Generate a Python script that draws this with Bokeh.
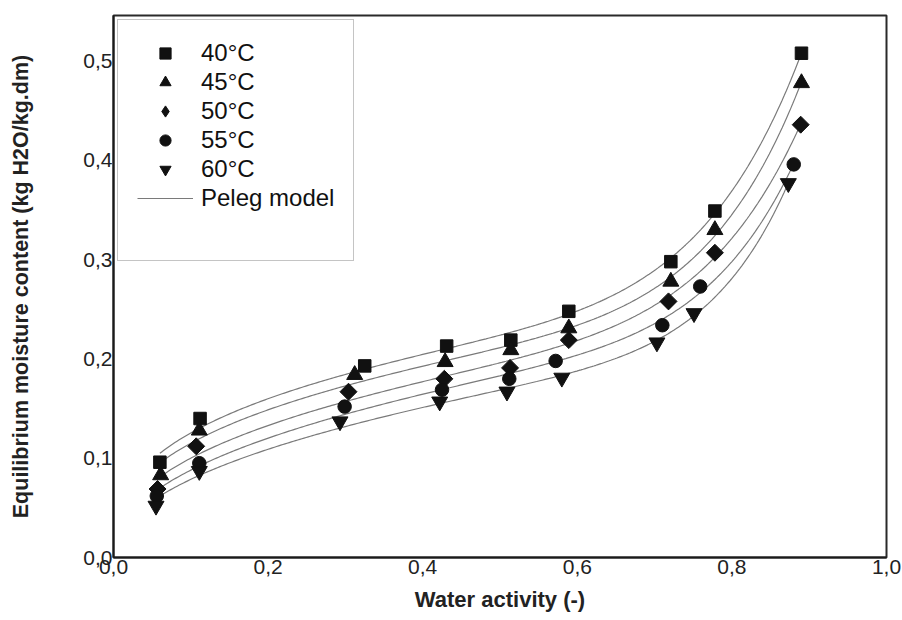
import numpy as np
from bokeh.plotting import figure
from bokeh.models import Legend, LegendItem, FixedTicker, Range1d, ColumnDataSource
from bokeh.embed import file_html
from bokeh.resources import INLINE

# ---- data ----
temps = ["40°C", "45°C", "50°C", "55°C", "60°C"]

aw_40 = [0.060, 0.112, 0.325, 0.431, 0.514, 0.589, 0.721, 0.778, 0.890]
m_40 = [0.096, 0.140, 0.193, 0.213, 0.219, 0.248, 0.298, 0.349, 0.508]

aw_45 = [0.061, 0.111, 0.312, 0.429, 0.514, 0.589, 0.721, 0.778, 0.890]
m_45 = [0.083, 0.128, 0.184, 0.197, 0.209, 0.231, 0.278, 0.330, 0.478]

aw_50 = [0.057, 0.107, 0.304, 0.428, 0.513, 0.589, 0.718, 0.778, 0.889]
m_50 = [0.069, 0.112, 0.167, 0.180, 0.191, 0.219, 0.258, 0.307, 0.436]

aw_55 = [0.056, 0.111, 0.299, 0.425, 0.512, 0.572, 0.710, 0.759, 0.880]
m_55 = [0.062, 0.095, 0.152, 0.169, 0.180, 0.198, 0.234, 0.273, 0.396]

aw_60 = [0.055, 0.111, 0.293, 0.422, 0.509, 0.580, 0.703, 0.751, 0.873]
m_60 = [0.052, 0.087, 0.137, 0.157, 0.167, 0.181, 0.2165, 0.246, 0.377]

x_ticks = [0.0, 0.2, 0.4, 0.6, 0.8, 1.0]
x_tick_labels = ["0,0", "0,2", "0,4", "0,6", "0,8", "1,0"]
y_ticks = [0.0, 0.1, 0.2, 0.3, 0.4, 0.5]
y_tick_labels = ["0,0", "0,1", "0,2", "0,3", "0,4", "0,5"]

series_aw = [aw_40, aw_45, aw_50, aw_55, aw_60]
series_m = [m_40, m_45, m_50, m_55, m_60]
markers = ["square", "triangle", "square", "circle", "inverted_triangle"]
legend_markers = ["square", "triangle", "diamond", "circle", "inverted_triangle"]
angles = [0, 0, np.pi / 4, 0, 0]
sizes = [12.5, 16, 12, 13.5, 16]


def peleg_fit(x, y):
    """Least-squares fit of the Peleg model M = k1*aw^n1 + k2*aw^n2."""
    x = np.asarray(x, float)
    y = np.asarray(y, float)
    best_r, best_p = np.inf, None
    for n1 in np.arange(0.05, 1.5, 0.02):
        for n2 in np.arange(1.5, 20.0, 0.2):
            A = np.column_stack([x ** n1, x ** n2])
            coef, *_ = np.linalg.lstsq(A, y, rcond=None)
            if coef.min() <= 0:
                continue
            r = np.sum((A @ coef - y) ** 2)
            if r < best_r:
                best_r, best_p = r, (coef[0], n1, coef[1], n2)
    return best_p


FONT = "Liberation Sans"

p = figure(width=902, height=620, output_backend="svg", toolbar_location=None,
           x_range=Range1d(0, 1), y_range=Range1d(0, 0.546),
           min_border_left=113, min_border_right=16, min_border_top=15,
           min_border_bottom=63)

p.xgrid.visible = False
p.ygrid.visible = False
p.outline_line_color = "#2a2a2a"
p.outline_line_width = 2
p.background_fill_color = "white"
p.border_fill_color = "white"

line_renderers = []
for aw, m in zip(series_aw, series_m):
    k1, n1, k2, n2 = peleg_fit(aw, m)
    xs = np.linspace(min(aw), max(aw), 300)
    ys = k1 * xs ** n1 + k2 * xs ** n2
    lr = p.line(xs, ys, line_color="#7a7a7a", line_width=1.2)
    line_renderers.append(lr)

legend_renderers = []
for aw, m, mk, lmk, ang, sz in zip(series_aw, series_m, markers, legend_markers, angles, sizes):
    src = ColumnDataSource(dict(x=aw, y=m))
    if lmk != mk:
        # narrow diamond hidden beneath the rotated square; used for the legend symbol
        lr = p.scatter("x", "y", source=src, marker=lmk, size=12,
                       fill_color="#111111", line_color="#111111")
    sr = p.scatter("x", "y", source=src, marker=mk, size=sz, angle=ang,
                   fill_color="#111111", line_color="#111111")
    legend_renderers.append(lr if lmk != mk else sr)

dummy = p.scatter(x=[], y=[], size=1, fill_alpha=0, line_alpha=0)

items = [LegendItem(label=t, renderers=[r]) for t, r in zip(temps, legend_renderers)]
items.append(LegendItem(label="Peleg model", renderers=[line_renderers[0]]))
items.append(LegendItem(label=" ", renderers=[dummy]))

legend = Legend(items=items, location="top_left", margin=4, padding=19,
                spacing=1, glyph_width=56, glyph_height=28, label_height=28,
                label_standoff=8, label_text_font=FONT,
                label_text_font_size="24px", label_text_color="#111111",
                border_line_color="#8a8a8a", border_line_width=1,
                background_fill_color="white", background_fill_alpha=1)
p.add_layout(legend, "center")

# axes
p.xaxis.ticker = FixedTicker(ticks=x_ticks)
p.xaxis.major_label_overrides = dict(zip(x_ticks, x_tick_labels))
p.yaxis.ticker = FixedTicker(ticks=y_ticks)
p.yaxis.major_label_overrides = dict(zip(y_ticks, y_tick_labels))

for ax in (p.xaxis[0], p.yaxis[0]):
    ax.major_tick_out = 0
    ax.major_tick_in = 0
    ax.minor_tick_out = 0
    ax.minor_tick_in = 0
    ax.axis_line_color = "#1a1a1a"
    ax.axis_line_width = 2
    ax.major_label_text_font = FONT
    ax.major_label_text_font_size = "21px"
    ax.major_label_text_color = "#222222"
    ax.axis_label_text_font = FONT
    ax.axis_label_text_font_style = "bold"
    ax.axis_label_text_color = "#222222"

p.xaxis.axis_label = "Water activity (-)"
p.xaxis.axis_label_text_font_size = "22px"
p.xaxis.major_label_standoff = 2
p.xaxis.axis_label_standoff = 10

p.yaxis.axis_label = "Equilibrium moisture content (kg H2O/kg.dm)"
p.yaxis.axis_label_text_font_size = "21.5px"
p.yaxis.major_label_standoff = 1
p.yaxis.axis_label_standoff = 47

open("out.html", "w").write(file_html(p, INLINE))
